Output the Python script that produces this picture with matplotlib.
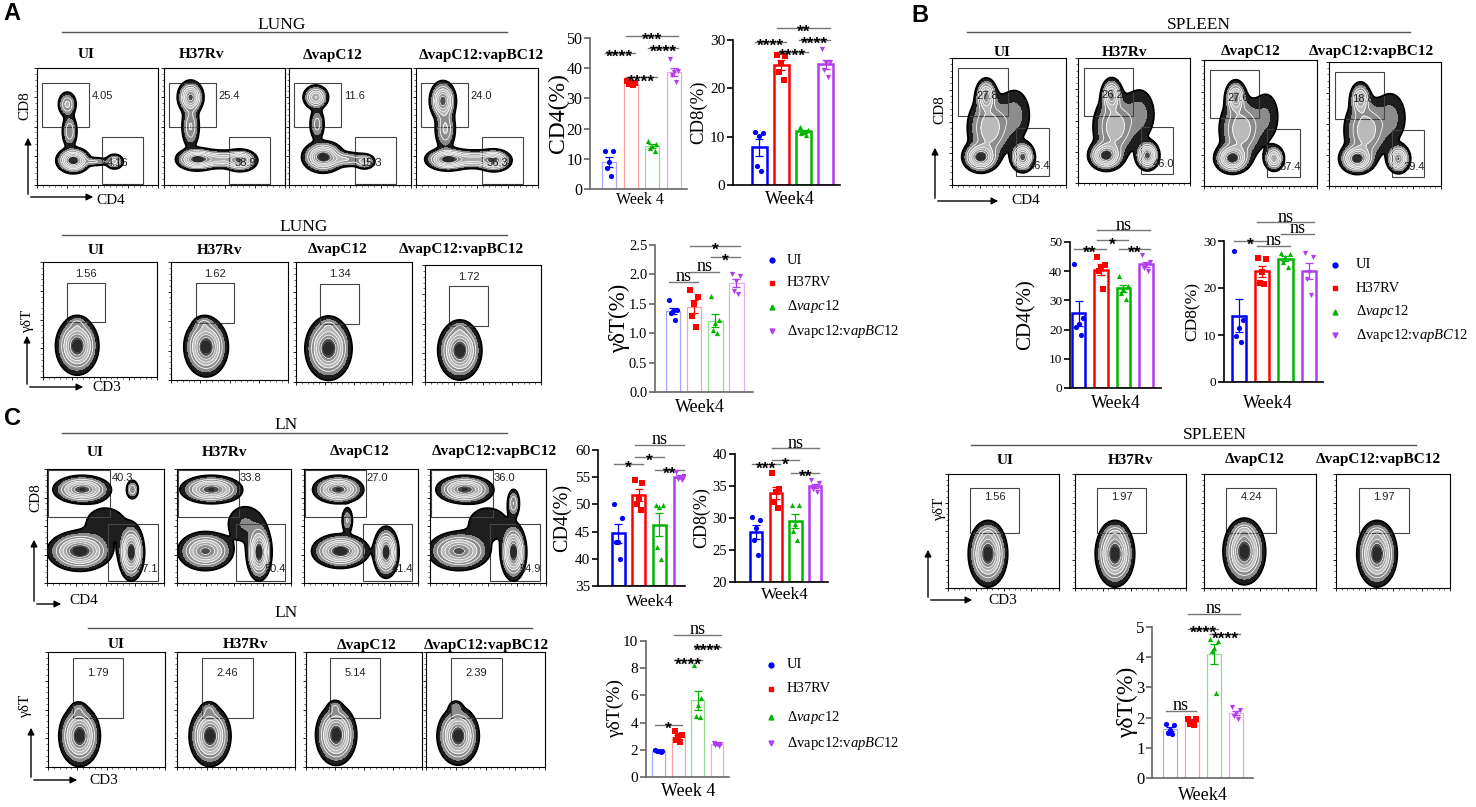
import numpy as np
import matplotlib
matplotlib.use("Agg")
import matplotlib.pyplot as plt
from matplotlib.colors import ListedColormap
from matplotlib.lines import Line2D
from matplotlib.patches import Rectangle, FancyArrowPatch
from matplotlib.ticker import MultipleLocator, FormatStrFormatter

plt.rcParams["font.family"] = ["Liberation Serif", "DejaVu Serif"]
plt.rcParams["mathtext.fontset"] = "custom"
plt.rcParams["mathtext.rm"] = "Liberation Serif"
plt.rcParams["mathtext.it"] = "Liberation Serif:italic"

# ---------------- data ----------------
samples = ["UI", "H37Rv", "ΔvapC12", "ΔvapC12:vapBC12"]
legend_labels = ["UI", "H37RV", r"Δ$\mathit{vapc12}$", r"Δvapc12:v$\mathit{apBC12}$"]

# gate percentages of the flow plots
lung_cd_vals = [["4.05", "4.16"], ["25.4", "38.9"], ["11.6", "15.3"], ["24.0", "36.3"]]
lung_gd_vals = [["1.56"], ["1.62"], ["1.34"], ["1.72"]]
ln_cd_vals = [["40.3", "47.1"], ["33.8", "50.4"], ["27.0", "41.4"], ["36.0", "54.9"]]
ln_gd_vals = [["1.79"], ["2.46"], ["5.14"], ["2.39"]]
spleen_cd_vals = [["27.8", "46.4"], ["26.2", "46.0"], ["27.6", "37.4"], ["18.8", "39.4"]]
spleen_gd_vals = [["1.56"], ["1.97"], ["4.24"], ["1.97"]]

# cell populations of the flow plots (x, y, spread x, spread y, weight)
lung_cd_blobs = [
    [(0.30, 0.21, 0.057, 0.045, 1.0), (0.48, 0.20, 0.06, 0.018, 0.2), (0.64, 0.20, 0.035, 0.03, 0.35), (0.27, 0.46, 0.03, 0.07, 0.3), (0.25, 0.69, 0.035, 0.05, 0.35)],
    [(0.27, 0.22, 0.07, 0.04, 1.0), (0.45, 0.22, 0.10, 0.035, 0.5), (0.63, 0.21, 0.06, 0.04, 0.8), (0.22, 0.75, 0.045, 0.06, 0.9), (0.22, 0.50, 0.035, 0.09, 0.35)],
    [(0.28, 0.24, 0.07, 0.055, 1.0), (0.47, 0.22, 0.08, 0.03, 0.3), (0.62, 0.20, 0.04, 0.03, 0.35), (0.22, 0.75, 0.045, 0.045, 0.6), (0.23, 0.52, 0.03, 0.07, 0.25)],
    [(0.26, 0.22, 0.075, 0.04, 1.0), (0.47, 0.22, 0.10, 0.035, 0.5), (0.64, 0.21, 0.06, 0.04, 0.8), (0.22, 0.72, 0.045, 0.07, 0.9), (0.24, 0.48, 0.04, 0.09, 0.35)],
]
lung_gd_blobs = [
    [(0.30, 0.27, 0.075, 0.10, 1.0), (0.30, 0.47, 0.04, 0.03, 0.12)],
    [(0.30, 0.28, 0.075, 0.10, 1.0), (0.28, 0.48, 0.04, 0.03, 0.15)],
    [(0.28, 0.28, 0.08, 0.105, 1.0), (0.28, 0.47, 0.04, 0.03, 0.12)],
    [(0.30, 0.27, 0.075, 0.10, 1.0), (0.30, 0.46, 0.04, 0.03, 0.10)],
]
ln_cd_blobs = [
    [(0.30, 0.82, 0.10, 0.05, 0.9), (0.28, 0.28, 0.11, 0.07, 1.0), (0.72, 0.27, 0.045, 0.10, 1.0), (0.73, 0.82, 0.025, 0.04, 0.3), (0.50, 0.52, 0.12, 0.10, 0.10)],
    [(0.30, 0.82, 0.11, 0.05, 0.9), (0.25, 0.28, 0.10, 0.07, 0.8), (0.72, 0.27, 0.045, 0.10, 1.0), (0.60, 0.52, 0.10, 0.10, 0.12)],
    [(0.30, 0.82, 0.09, 0.05, 0.9), (0.32, 0.28, 0.10, 0.06, 1.0), (0.72, 0.27, 0.045, 0.09, 1.0), (0.38, 0.55, 0.025, 0.06, 0.2)],
    [(0.30, 0.82, 0.10, 0.05, 0.9), (0.25, 0.28, 0.11, 0.07, 0.8), (0.72, 0.27, 0.045, 0.10, 1.0), (0.72, 0.70, 0.025, 0.06, 0.3), (0.50, 0.52, 0.12, 0.10, 0.10)],
]
ln_gd_blobs = [
    [(0.27, 0.27, 0.07, 0.105, 1.0), (0.26, 0.50, 0.035, 0.035, 0.12)],
    [(0.28, 0.27, 0.07, 0.105, 1.0), (0.27, 0.50, 0.035, 0.035, 0.14)],
    [(0.26, 0.28, 0.07, 0.105, 1.0), (0.25, 0.52, 0.03, 0.03, 0.16)],
    [(0.27, 0.27, 0.07, 0.10, 1.0), (0.25, 0.52, 0.03, 0.03, 0.14)],
]
spleen_cd_blobs = [
    [(0.25, 0.22, 0.065, 0.05, 1.0), (0.62, 0.22, 0.045, 0.05, 0.9), (0.30, 0.70, 0.04, 0.06, 0.7), (0.33, 0.45, 0.09, 0.12, 0.45), (0.55, 0.55, 0.08, 0.12, 0.15)],
    [(0.25, 0.22, 0.065, 0.05, 1.0), (0.62, 0.22, 0.045, 0.05, 0.9), (0.30, 0.70, 0.04, 0.06, 0.7), (0.33, 0.45, 0.09, 0.12, 0.45), (0.55, 0.55, 0.08, 0.12, 0.15)],
    [(0.25, 0.22, 0.065, 0.05, 1.0), (0.62, 0.22, 0.04, 0.045, 0.6), (0.28, 0.70, 0.04, 0.06, 0.7), (0.33, 0.45, 0.09, 0.12, 0.45), (0.55, 0.55, 0.07, 0.12, 0.12)],
    [(0.25, 0.22, 0.065, 0.05, 1.0), (0.62, 0.22, 0.045, 0.05, 0.8), (0.28, 0.70, 0.04, 0.06, 0.6), (0.33, 0.45, 0.09, 0.12, 0.45), (0.55, 0.55, 0.08, 0.12, 0.15)],
]
spleen_gd_blobs = [
    [(0.36, 0.30, 0.07, 0.115, 1.0), (0.36, 0.48, 0.045, 0.035, 0.12)],
    [(0.36, 0.30, 0.07, 0.115, 1.0), (0.36, 0.48, 0.045, 0.035, 0.14)],
    [(0.36, 0.32, 0.075, 0.115, 1.0), (0.36, 0.50, 0.045, 0.035, 0.18)],
    [(0.36, 0.30, 0.07, 0.115, 1.0), (0.36, 0.48, 0.045, 0.035, 0.12)],
]

# bar chart points (UI, H37RV, dvapc12, dvapc12:vapBC12)
a_cd4 = [[12.5, 12.5, 8.8, 7.0, 4.2], [35.6, 35.2, 35.0, 34.8, 34.6], [15.8, 15.0, 14.4, 13.6, 12.6], [43.0, 39.0, 38.6, 37.8, 35.4]]
a_cd8 = [[10.9, 10.8, 10.1, 4.0, 3.0], [26.9, 26.7, 25.2, 23.4, 21.7], [12.0, 11.4, 11.0, 10.8, 10.4], [28.1, 25.5, 25.2, 23.8, 22.3]]
a_gd = [[1.56, 1.40, 1.38, 1.34, 1.22], [1.73, 1.62, 1.50, 1.30, 1.10], [1.63, 1.22, 1.17, 1.05, 1.00], [2.00, 1.98, 1.88, 1.72, 1.66]]
b_cd4 = [[42.6, 24.0, 22.0, 21.0, 18.0], [45.0, 42.0, 41.5, 40.0, 34.0], [38.5, 35.0, 34.0, 32.5, 30.5], [45.5, 43.0, 42.0, 41.0, 40.0]]
b_cd8 = [[27.8, 13.1, 11.4, 9.8, 8.5], [26.3, 26.2, 23.5, 21.0, 20.8], [27.5, 27.2, 26.5, 25.5, 24.5], [27.5, 26.5, 23.5, 22.0, 18.5]]
b_gd = [[1.80, 1.75, 1.60, 1.50, 1.45], [1.97, 1.95, 1.87, 1.80, 1.75], [4.60, 4.55, 4.30, 4.20, 2.80], [2.35, 2.25, 2.15, 2.05, 1.95]]
c_cd4 = [[50.0, 47.5, 43.0, 43.0, 40.0], [54.5, 54.0, 51.0, 50.0, 49.0], [49.8, 49.8, 49.5, 42.2, 40.0], [56.0, 55.2, 55.0, 54.7, 54.5]]
c_cd8 = [[30.1, 29.7, 28.5, 26.5, 24.2], [37.0, 34.5, 34.0, 32.5, 31.5], [32.0, 32.0, 29.0, 28.0, 26.5], [36.0, 35.5, 35.0, 34.5, 34.0]]
c_gd = [[1.95, 1.92, 1.90, 1.88, 1.85], [3.40, 3.10, 3.00, 2.70, 2.60], [8.20, 5.80, 5.30, 4.50, 4.40], [2.50, 2.45, 2.40, 2.35, 2.30]]

# significance: (group i, group j, height, label)
a_cd4_sig = [(0, 1, 45, "****"), (1, 2, 37, "****"), (1, 3, 50.6, "***"), (2, 3, 46.7, "****")]
a_cd8_sig = [(0, 1, 29.6, "****"), (1, 2, 27.5, "****"), (1, 3, 32.5, "**"), (2, 3, 30, "****")]
a_gd_sig = [(0, 1, 1.87, "ns"), (1, 2, 2.04, "ns"), (1, 3, 2.48, "*"), (2, 3, 2.30, "*")]
b_cd4_sig = [(0, 1, 47.6, "**"), (1, 2, 50.6, "*"), (1, 3, 54, "ns"), (2, 3, 47.6, "**")]
b_cd8_sig = [(0, 1, 30, "*"), (1, 2, 29, "ns"), (1, 3, 34, "ns"), (2, 3, 31.5, "ns")]
b_gd_sig = [(0, 1, 2.22, "ns"), (1, 2, 4.94, "****"), (1, 3, 5.44, "ns"), (2, 3, 4.76, "****")]
c_cd4_sig = [(0, 1, 57.5, "*"), (1, 2, 58.7, "*"), (1, 3, 60.9, "ns"), (2, 3, 56.4, "**")]
c_cd8_sig = [(0, 1, 38.4, "***"), (1, 2, 39.0, "*"), (1, 3, 40.9, "ns"), (2, 3, 37.1, "**")]
c_gd_sig = [(0, 1, 3.85, "*"), (1, 2, 8.58, "****"), (1, 3, 10.47, "ns"), (2, 3, 9.56, "****")]

colors = ["#0000FF", "#FF0000", "#00B400", "#B43CF0"]
light_colors = ["#A8A8FF", "#FFA0A0", "#90DD90", "#E2AAF5"]
markers = ["o", "s", "^", "v"]
jitter = [-0.18, 0.18, 0.0, -0.1, 0.1]

# ---------------- helpers ----------------
W, H = 1476, 807
fig = plt.figure(figsize=(W / 100, H / 100), dpi=100)


def px_rect(l, t, r, b):
    return [l / W, 1 - b / H, (r - l) / W, (b - t) / H]


def fx(x):
    return x / W


def fy(y):
    return 1 - y / H


zebra_levels = [0.04, 0.065, 0.11, 0.19, 0.3, 0.44, 0.58, 0.73, 0.88, 1.01]
zebra_cmap = ListedColormap(["#1e1e1e", "#8c8c8c", "#a9a9a9", "#bababa", "#a8a8a8", "#8e8e8e",
                             "#6e6e6e", "#4c4c4c", "#2a2a2a"])


def zebra(ax, blobs):
    g = np.linspace(0, 1, 220)
    X, Y = np.meshgrid(g, g)
    Z = np.zeros_like(X)
    for cx, cy, sx, sy, w in blobs:
        Z += w * np.exp(-((X - cx) ** 2 / (2 * sx ** 2) + (Y - cy) ** 2 / (2 * sy ** 2)))
    Z /= Z.max()
    ax.contourf(X, Y, Z, levels=zebra_levels, cmap=zebra_cmap)
    ax.contour(X, Y, Z, levels=zebra_levels[3:-2], colors="white", linewidths=0.55)
    ax.contour(X, Y, Z, levels=[zebra_levels[0]], colors="black", linewidths=1.3)


def arrow(x0, y0, x1, y1):
    fig.add_artist(FancyArrowPatch((fx(x0), fy(y0)), (fx(x1), fy(y1)), transform=fig.transFigure,
                                   arrowstyle="-|>", mutation_scale=10, lw=1, color="black"))


def flow_group(title, title_xy, line_x, line_y, head_x, head_y, rects, gates, lab_pos, vals, blobs,
               ylab, ylab_xy, xlab, xlab_xy, corner, top, right):
    fig.text(fx(title_xy[0]), fy(title_xy[1]), title, ha="center", va="center", fontsize=12.5)
    fig.add_artist(Line2D([fx(line_x[0]), fx(line_x[1])], [fy(line_y)] * 2, color="#555555", lw=1))
    for i in range(4):
        fig.text(fx(head_x[i]), fy(head_y), samples[i], ha="center", va="center", fontsize=11, fontweight="bold")
        ax = fig.add_axes(px_rect(*rects[i]))
        zebra(ax, blobs[i])
        for g, (lx, ly, ha), v in zip(gates, lab_pos, vals[i]):
            ax.add_patch(Rectangle((g[0], g[1]), g[2] - g[0], g[3] - g[1], fill=False, ec="#444444", lw=0.8))
            ax.text(lx, ly, v, ha=ha, va="center", fontsize=8, family="Liberation Sans", color="#222222")
        ax.set_xlim(0, 1)
        ax.set_ylim(0, 1)
        ax.xaxis.set_major_locator(MultipleLocator(0.25))
        ax.yaxis.set_major_locator(MultipleLocator(0.25))
        ax.xaxis.set_minor_locator(MultipleLocator(0.05))
        ax.yaxis.set_minor_locator(MultipleLocator(0.05))
        ax.tick_params(which="major", length=2.5, width=0.6, labelbottom=False, labelleft=False)
        ax.tick_params(which="minor", length=1.2, width=0.4)
        for s in ax.spines.values():
            s.set_linewidth(0.8)
    fig.text(fx(ylab_xy[0]), fy(ylab_xy[1]), ylab, rotation=90, ha="center", va="center", fontsize=11)
    fig.text(fx(xlab_xy[0]), fy(xlab_xy[1]), xlab, ha="center", va="center", fontsize=11)
    arrow(corner[0], corner[1], corner[0], top)
    arrow(corner[0], corner[1], right, corner[1])


def bar_panel(rect, pts, ylim, ystep, xlim, width, light, sigs, ylab, ylab_x, ylab_size,
              xlab, xlab_xy, xlab_size, tick_size=11.5, fmt=None):
    ax = fig.add_axes(px_rect(*rect))
    for i, p in enumerate(pts):
        p = np.array(p)
        m = p.mean()
        se = p.std(ddof=1) / np.sqrt(len(p))
        ec = light_colors[i] if light else colors[i]
        ax.bar(i, m - ylim[0], bottom=ylim[0], width=width, facecolor="white", edgecolor=ec,
               lw=0.9 if light else 1.8, zorder=1)
        ax.errorbar(i, m, yerr=se, color=colors[i], capsize=3, lw=0.9, capthick=0.9, zorder=2)
        ax.scatter(i + np.array(jitter), p, marker=markers[i], color=colors[i], s=14, zorder=3, lw=0)
    ax.set_xlim(xlim)
    ax.set_ylim(ylim)
    ax.set_yticks(np.arange(ylim[0], ylim[1] + ystep / 2, ystep))
    if fmt:
        ax.yaxis.set_major_formatter(FormatStrFormatter(fmt))
    ax.set_xticks([])
    axc = "#666666" if light else "black"
    for s in ["top", "right"]:
        ax.spines[s].set_visible(False)
    for s in ["left", "bottom"]:
        ax.spines[s].set_linewidth(1.2)
        ax.spines[s].set_color(axc)
    ax.tick_params(axis="y", length=4, width=1.2, color=axc, labelsize=tick_size, pad=1.5)
    for a, b, y, t in sigs:
        ax.plot([a - 0.2, b + 0.2], [y, y], color="#777777", lw=1, clip_on=False)
        if t == "ns":
            ax.annotate(t, ((a + b) / 2, y), xytext=(0, 0.5), textcoords="offset points",
                        ha="center", va="baseline", fontsize=13, annotation_clip=False)
        else:
            ax.annotate(t, ((a + b) / 2, y), xytext=(0, -6.5), textcoords="offset points",
                        ha="center", va="baseline", fontsize=12.5, fontweight="bold",
                        family="Liberation Sans", annotation_clip=False)
    y_mid = (rect[1] + rect[3]) / 2
    fig.text(fx(ylab_x), fy(y_mid), ylab, rotation=90, ha="center", va="center", fontsize=ylab_size)
    fig.text(fx(xlab_xy[0]), fy(xlab_xy[1]), xlab, ha="center", va="center", fontsize=xlab_size)
    return ax


def legend(mx, tx, rows):
    for i in range(4):
        fig.add_artist(Line2D([fx(mx)], [fy(rows[i])], marker=markers[i], color=colors[i], ms=3.5, lw=0))
        fig.text(fx(tx), fy(rows[i]), legend_labels[i], ha="left", va="center", fontsize=10.5)


# ---------------- panel letters ----------------
for letter, (x, y) in zip("ABC", [(12, 14), (920, 16), (12, 418)]):
    fig.text(fx(x), fy(y), letter, ha="center", va="center", fontsize=17, fontweight="bold",
             family="Liberation Sans")

# ---------------- flow plots ----------------
flow_group("LUNG", (282, 25), (62, 507), 32, [86, 202, 333, 481], 55,
           [(37, 68, 158, 185), (164, 68, 285, 185), (289, 68, 411, 185), (416, 68, 538, 185)],
           [(0.04, 0.50, 0.43, 0.87), (0.54, 0.01, 0.88, 0.41)], [(0.45, 0.76, "left"), (0.58, 0.19, "left")],
           lung_cd_vals, lung_cd_blobs, "CD8", (25, 106), "CD4", (111, 200), (28, 197), 135, 96)

flow_group("LUNG", (304, 227), (62, 507), 235, [96, 220, 338, 461], 250,
           [(43, 262, 157, 377), (171, 262, 288, 380), (296, 262, 412, 382), (425, 265, 541, 382)],
           [(0.21, 0.48, 0.54, 0.82)], [(0.375, 0.9, "center")], lung_gd_vals, lung_gd_blobs,
           "γδT", (27, 320), "CD3", (107, 388), (27, 387), 333, 86)

flow_group("LN", (286, 425), (62, 507), 433, [95, 225, 360, 494], 452,
           [(47, 469, 164, 583), (177, 469, 291, 583), (304, 469, 418, 583), (430, 469, 546, 583)],
           [(0.01, 0.58, 0.54, 0.99), (0.52, 0.02, 0.95, 0.52)], [(0.55, 0.92, "left"), (0.77, 0.12, "left")],
           ln_cd_vals, ln_cd_blobs, "CD8", (36, 498), "CD4", (84, 601), (34, 604), 537, 64)

flow_group("LN", (286, 613), (88, 532), 628, [116, 246, 367, 486], 645,
           [(48, 652, 165, 767), (177, 652, 295, 767), (306, 652, 422, 767), (426, 652, 545, 767)],
           [(0.21, 0.43, 0.64, 0.95)], [(0.425, 0.82, "center")], ln_gd_vals, ln_gd_blobs,
           "γδT", (25, 705), "CD3", (104, 780), (31, 780), 725, 80)

flow_group("SPLEEN", (1199, 25), (967, 1410), 32, [1002, 1125, 1251, 1371], 52,
           [(952, 58, 1066, 185), (1078, 58, 1190, 183), (1204, 60, 1317, 186), (1329, 62, 1441, 186)],
           [(0.05, 0.54, 0.49, 0.92), (0.56, 0.07, 0.85, 0.45)], [(0.21, 0.70, "left"), (0.67, 0.15, "left")],
           spleen_cd_vals, spleen_cd_blobs, "CD8", (940, 110), "CD4", (1026, 200), (935, 201), 145, 1001)

flow_group("SPLEEN", (1215, 435), (971, 1416), 445, [1005, 1131, 1255, 1378], 460,
           [(948, 474, 1059, 588), (1075, 474, 1186, 588), (1204, 474, 1316, 588), (1336, 474, 1450, 588)],
           [(0.2, 0.48, 0.64, 0.88)], [(0.42, 0.8, "center")], spleen_gd_vals, spleen_gd_blobs,
           "γδT", (939, 508), "CD3", (1003, 600), (928, 600), 547, 975)

# ---------------- bar charts ----------------
bar_panel((590, 38, 687, 189), a_cd4, (0, 50), 10, (-0.88, 3.6), 0.65, True, a_cd4_sig,
          "CD4(%)", 558, 17, "Week 4", (640, 200), 11.5)
bar_panel((733, 40, 840, 185), a_cd8, (0, 30), 10, (-1.17, 3.63), 0.67, False, a_cd8_sig,
          "CD8(%)", 699, 13.5, "Week4", (790, 200), 13, tick_size=11)
bar_panel((655, 245, 753, 392), a_gd, (0, 2.5), 0.5, (-0.86, 3.8), 0.7, True, a_gd_sig,
          "γδT(%)", 619, 16.5, "Week4", (700, 408), 13, tick_size=10.5, fmt="%.1f")
bar_panel((1070, 242, 1161, 388), b_cd4, (0, 50), 10, (-0.38, 3.67), 0.59, False, b_cd4_sig,
          "CD4(%)", 1026, 15, "Week4", (1116, 404), 13, tick_size=9.5)
bar_panel((1224, 241, 1323, 382), b_cd8, (0, 30), 10, (-0.62, 3.6), 0.6, False, b_cd8_sig,
          "CD8(%)", 1193, 12.5, "Week4", (1268, 403), 13, tick_size=9.5)
bar_panel((1152, 627, 1253, 778), b_gd, (0, 5), 1, (-0.82, 3.77), 0.64, True, b_gd_sig,
          "γδT(%)", 1127, 17, "Week4", (1203, 795), 13, tick_size=12)
bar_panel((598, 450, 685, 586), c_cd4, (35, 60), 5, (-0.97, 3.24), 0.63, False, c_cd4_sig,
          "CD4(%)", 563, 14.5, "Week4", (650, 602), 12.5, tick_size=11)
bar_panel((735, 454, 828, 582), c_cd8, (20, 40), 5, (-1.07, 3.66), 0.63, False, c_cd8_sig,
          "CD8(%)", 702, 13, "Week4", (785, 595), 12.5, tick_size=10.5)
bar_panel((646, 641, 729, 777), c_gd, (0, 10), 2, (-0.67, 3.62), 0.67, True, c_gd_sig,
          "γδT(%)", 615, 14, "Week 4", (688, 792), 13, tick_size=11)

legend(772, 787, [260, 283, 307, 331])
legend(1335, 1356, [265, 288, 312, 335])
legend(771, 787, [665, 689, 717, 743])

fig.savefig("out.png", dpi=100)
